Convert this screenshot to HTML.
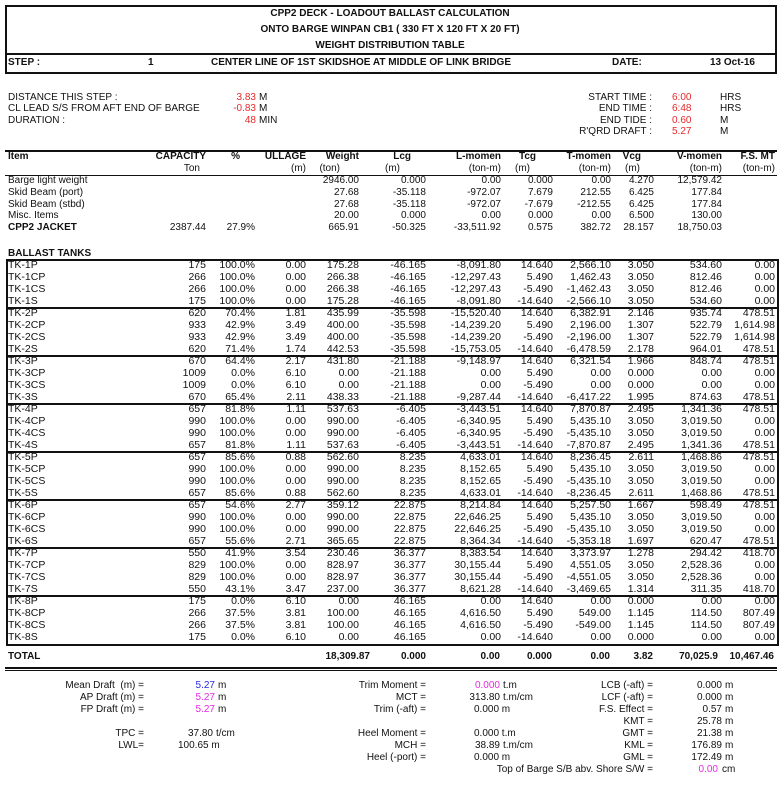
<!DOCTYPE html>
<html><head><meta charset="utf-8"><style>
body{margin:0;background:#fff;}
#p{position:relative;width:780px;height:786px;overflow:hidden;font-family:"Liberation Sans Narrow","Liberation Sans",Arial,sans-serif;font-size:10px;color:#111;}
.t{position:absolute;white-space:nowrap;line-height:12px;}
.r{position:absolute;left:0;width:780px;height:12px;line-height:12px;}
.r span{position:absolute;white-space:nowrap;}
.a{left:8px}.b{right:574px}.c{right:525px}.d{right:474px}.e{right:421px}.f{right:354px}.g{right:279px}.h{right:227px}.i{right:169px}.j{right:126px}.k{right:58px}.l{right:5px}
.tk{font-size:10.5px;}
.bd{font-weight:bold;}
.red{color:#e8282a}.blu{color:#2a2ae6}.mag{color:#e62ae6}
.ln{position:absolute;background:#111;}
</style></head><body><div id="p">
<!-- title box -->
<div style="position:absolute;left:5px;top:5px;width:768px;height:65px;border:2px solid #111;"></div>
<div class="ln" style="left:5px;top:53px;width:772px;height:2px"></div>
<div class="t bd" style="left:0;width:780px;text-align:center;top:8px">CPP2 DECK - LOADOUT BALLAST CALCULATION</div>
<div class="t bd" style="left:0;width:780px;text-align:center;top:24px">ONTO BARGE WINPAN CB1 ( 330 FT X 120 FT X 20 FT)</div>
<div class="t bd" style="left:0;width:780px;text-align:center;top:40px">WEIGHT DISTRIBUTION TABLE</div>
<div class="t bd" style="left:8px;top:57px">STEP :</div>
<div class="t bd" style="left:148px;top:57px">1</div>
<div class="t bd" style="left:211px;top:57px">CENTER LINE OF 1ST SKIDSHOE AT MIDDLE OF LINK BRIDGE</div>
<div class="t bd" style="left:612px;top:57px">DATE:</div>
<div class="t bd" style="right:25px;top:57px">13 Oct-16</div>
<!-- info -->
<div class="t" style="left:8px;top:92px">DISTANCE THIS STEP :</div>
<div class="t" style="left:8px;top:103px">CL LEAD S/S FROM AFT END OF BARGE</div>
<div class="t" style="left:8px;top:115px">DURATION :</div>
<div class="t red" style="right:524px;top:92px">3.83</div><div class="t" style="left:259px;top:92px">M</div>
<div class="t red" style="right:524px;top:103px">-0.83</div><div class="t" style="left:259px;top:103px">M</div>
<div class="t red" style="right:524px;top:115px">48</div><div class="t" style="left:259px;top:115px">MIN</div>
<div class="t" style="right:128px;top:92px">START TIME :</div><div class="t red" style="left:672px;top:92px">6:00</div><div class="t" style="left:720px;top:92px">HRS</div>
<div class="t" style="right:128px;top:103px">END TIME :</div><div class="t red" style="left:672px;top:103px">6:48</div><div class="t" style="left:720px;top:103px">HRS</div>
<div class="t" style="right:128px;top:115px">END TIDE :</div><div class="t red" style="left:672px;top:115px">0.60</div><div class="t" style="left:720px;top:115px">M</div>
<div class="t" style="right:128px;top:126px">R'QRD DRAFT :</div><div class="t red" style="left:672px;top:126px">5.27</div><div class="t" style="left:720px;top:126px">M</div>
<!-- header -->
<div class="ln" style="left:5px;top:150px;width:772px;height:2px"></div>
<div class="ln" style="left:5px;top:175px;width:772px;height:1px"></div>
<div class="r bd" style="top:151px"><span class="a">Item</span><span class="b">CAPACITY</span><span style="right:540px">%</span><span class="d">ULLAGE</span><span class="e">Weight</span><span style="right:369px">Lcg</span><span class="g">L-momen</span><span style="right:244px">Tcg</span><span class="i">T-momen</span><span style="right:139px">Vcg</span><span class="k">V-momen</span><span class="l">F.S. MT</span></div>
<div class="r" style="top:163px"><span style="right:580px">Ton</span><span class="d">(m)</span><span style="right:440px">(ton)</span><span style="right:380px">(m)</span><span class="g">(ton-m)</span><span style="right:250px">(m)</span><span class="i">(ton-m)</span><span style="right:140px">(m)</span><span class="k">(ton-m)</span><span class="l">(ton-m)</span></div>
<div class="r" style="top:175px"><span class="a">Barge light weight</span><span class="e">2946.00</span><span class="f">0.000</span><span class="g">0.00</span><span class="h">0.000</span><span class="i">0.00</span><span class="j">4.270</span><span class="k">12,579.42</span></div>
<div class="r" style="top:187px"><span class="a">Skid Beam (port)</span><span class="e">27.68</span><span class="f">-35.118</span><span class="g">-972.07</span><span class="h">7.679</span><span class="i">212.55</span><span class="j">6.425</span><span class="k">177.84</span></div>
<div class="r" style="top:199px"><span class="a">Skid Beam (stbd)</span><span class="e">27.68</span><span class="f">-35.118</span><span class="g">-972.07</span><span class="h">-7.679</span><span class="i">-212.55</span><span class="j">6.425</span><span class="k">177.84</span></div>
<div class="r" style="top:210px"><span class="a">Misc. Items</span><span class="e">20.00</span><span class="f">0.000</span><span class="g">0.00</span><span class="h">0.000</span><span class="i">0.00</span><span class="j">6.500</span><span class="k">130.00</span></div>
<div class="r" style="top:222px"><span class="a bd">CPP2 JACKET</span><span class="b">2387.44</span><span class="c">27.9%</span><span class="e">665.91</span><span class="f">-50.325</span><span class="g">-33,511.92</span><span class="h">0.575</span><span class="i">382.72</span><span class="j">28.157</span><span class="k">18,750.03</span></div>
<div class="t bd" style="left:8px;top:248px">BALLAST TANKS</div>
<!-- tank box -->
<div style="position:absolute;left:6px;top:259px;width:769px;height:383px;border:2px solid #111;"></div>
<div class="ln" style="left:6px;top:307px;width:772px;height:2px"></div>
<div class="ln" style="left:6px;top:355px;width:772px;height:2px"></div>
<div class="ln" style="left:6px;top:403px;width:772px;height:2px"></div>
<div class="ln" style="left:6px;top:451px;width:772px;height:2px"></div>
<div class="ln" style="left:6px;top:499px;width:772px;height:2px"></div>
<div class="ln" style="left:6px;top:547px;width:772px;height:2px"></div>
<div class="ln" style="left:6px;top:595px;width:772px;height:2px"></div>
<div class="tk">
<div class="r" style="top:259px"><span class="a">TK-1P</span><span class="b">175</span><span class="c">100.0%</span><span class="d">0.00</span><span class="e">175.28</span><span class="f">-46.165</span><span class="g">-8,091.80</span><span class="h">14.640</span><span class="i">2,566.10</span><span class="j">3.050</span><span class="k">534.60</span><span class="l">0.00</span></div>
<div class="r" style="top:271px"><span class="a">TK-1CP</span><span class="b">266</span><span class="c">100.0%</span><span class="d">0.00</span><span class="e">266.38</span><span class="f">-46.165</span><span class="g">-12,297.43</span><span class="h">5.490</span><span class="i">1,462.43</span><span class="j">3.050</span><span class="k">812.46</span><span class="l">0.00</span></div>
<div class="r" style="top:283px"><span class="a">TK-1CS</span><span class="b">266</span><span class="c">100.0%</span><span class="d">0.00</span><span class="e">266.38</span><span class="f">-46.165</span><span class="g">-12,297.43</span><span class="h">-5.490</span><span class="i">-1,462.43</span><span class="j">3.050</span><span class="k">812.46</span><span class="l">0.00</span></div>
<div class="r" style="top:295px"><span class="a">TK-1S</span><span class="b">175</span><span class="c">100.0%</span><span class="d">0.00</span><span class="e">175.28</span><span class="f">-46.165</span><span class="g">-8,091.80</span><span class="h">-14.640</span><span class="i">-2,566.10</span><span class="j">3.050</span><span class="k">534.60</span><span class="l">0.00</span></div>
<div class="r" style="top:307px"><span class="a">TK-2P</span><span class="b">620</span><span class="c">70.4%</span><span class="d">1.81</span><span class="e">435.99</span><span class="f">-35.598</span><span class="g">-15,520.40</span><span class="h">14.640</span><span class="i">6,382.91</span><span class="j">2.146</span><span class="k">935.74</span><span class="l">478.51</span></div>
<div class="r" style="top:319px"><span class="a">TK-2CP</span><span class="b">933</span><span class="c">42.9%</span><span class="d">3.49</span><span class="e">400.00</span><span class="f">-35.598</span><span class="g">-14,239.20</span><span class="h">5.490</span><span class="i">2,196.00</span><span class="j">1.307</span><span class="k">522.79</span><span class="l">1,614.98</span></div>
<div class="r" style="top:331px"><span class="a">TK-2CS</span><span class="b">933</span><span class="c">42.9%</span><span class="d">3.49</span><span class="e">400.00</span><span class="f">-35.598</span><span class="g">-14,239.20</span><span class="h">-5.490</span><span class="i">-2,196.00</span><span class="j">1.307</span><span class="k">522.79</span><span class="l">1,614.98</span></div>
<div class="r" style="top:343px"><span class="a">TK-2S</span><span class="b">620</span><span class="c">71.4%</span><span class="d">1.74</span><span class="e">442.53</span><span class="f">-35.598</span><span class="g">-15,753.05</span><span class="h">-14.640</span><span class="i">-6,478.59</span><span class="j">2.178</span><span class="k">964.01</span><span class="l">478.51</span></div>
<div class="r" style="top:355px"><span class="a">TK-3P</span><span class="b">670</span><span class="c">64.4%</span><span class="d">2.17</span><span class="e">431.80</span><span class="f">-21.188</span><span class="g">-9,148.97</span><span class="h">14.640</span><span class="i">6,321.54</span><span class="j">1.966</span><span class="k">848.74</span><span class="l">478.51</span></div>
<div class="r" style="top:367px"><span class="a">TK-3CP</span><span class="b">1009</span><span class="c">0.0%</span><span class="d">6.10</span><span class="e">0.00</span><span class="f">-21.188</span><span class="g">0.00</span><span class="h">5.490</span><span class="i">0.00</span><span class="j">0.000</span><span class="k">0.00</span><span class="l">0.00</span></div>
<div class="r" style="top:379px"><span class="a">TK-3CS</span><span class="b">1009</span><span class="c">0.0%</span><span class="d">6.10</span><span class="e">0.00</span><span class="f">-21.188</span><span class="g">0.00</span><span class="h">-5.490</span><span class="i">0.00</span><span class="j">0.000</span><span class="k">0.00</span><span class="l">0.00</span></div>
<div class="r" style="top:391px"><span class="a">TK-3S</span><span class="b">670</span><span class="c">65.4%</span><span class="d">2.11</span><span class="e">438.33</span><span class="f">-21.188</span><span class="g">-9,287.44</span><span class="h">-14.640</span><span class="i">-6,417.22</span><span class="j">1.995</span><span class="k">874.63</span><span class="l">478.51</span></div>
<div class="r" style="top:403px"><span class="a">TK-4P</span><span class="b">657</span><span class="c">81.8%</span><span class="d">1.11</span><span class="e">537.63</span><span class="f">-6.405</span><span class="g">-3,443.51</span><span class="h">14.640</span><span class="i">7,870.87</span><span class="j">2.495</span><span class="k">1,341.36</span><span class="l">478.51</span></div>
<div class="r" style="top:415px"><span class="a">TK-4CP</span><span class="b">990</span><span class="c">100.0%</span><span class="d">0.00</span><span class="e">990.00</span><span class="f">-6.405</span><span class="g">-6,340.95</span><span class="h">5.490</span><span class="i">5,435.10</span><span class="j">3.050</span><span class="k">3,019.50</span><span class="l">0.00</span></div>
<div class="r" style="top:427px"><span class="a">TK-4CS</span><span class="b">990</span><span class="c">100.0%</span><span class="d">0.00</span><span class="e">990.00</span><span class="f">-6.405</span><span class="g">-6,340.95</span><span class="h">-5.490</span><span class="i">-5,435.10</span><span class="j">3.050</span><span class="k">3,019.50</span><span class="l">0.00</span></div>
<div class="r" style="top:439px"><span class="a">TK-4S</span><span class="b">657</span><span class="c">81.8%</span><span class="d">1.11</span><span class="e">537.63</span><span class="f">-6.405</span><span class="g">-3,443.51</span><span class="h">-14.640</span><span class="i">-7,870.87</span><span class="j">2.495</span><span class="k">1,341.36</span><span class="l">478.51</span></div>
<div class="r" style="top:451px"><span class="a">TK-5P</span><span class="b">657</span><span class="c">85.6%</span><span class="d">0.88</span><span class="e">562.60</span><span class="f">8.235</span><span class="g">4,633.01</span><span class="h">14.640</span><span class="i">8,236.45</span><span class="j">2.611</span><span class="k">1,468.86</span><span class="l">478.51</span></div>
<div class="r" style="top:463px"><span class="a">TK-5CP</span><span class="b">990</span><span class="c">100.0%</span><span class="d">0.00</span><span class="e">990.00</span><span class="f">8.235</span><span class="g">8,152.65</span><span class="h">5.490</span><span class="i">5,435.10</span><span class="j">3.050</span><span class="k">3,019.50</span><span class="l">0.00</span></div>
<div class="r" style="top:475px"><span class="a">TK-5CS</span><span class="b">990</span><span class="c">100.0%</span><span class="d">0.00</span><span class="e">990.00</span><span class="f">8.235</span><span class="g">8,152.65</span><span class="h">-5.490</span><span class="i">-5,435.10</span><span class="j">3.050</span><span class="k">3,019.50</span><span class="l">0.00</span></div>
<div class="r" style="top:487px"><span class="a">TK-5S</span><span class="b">657</span><span class="c">85.6%</span><span class="d">0.88</span><span class="e">562.60</span><span class="f">8.235</span><span class="g">4,633.01</span><span class="h">-14.640</span><span class="i">-8,236.45</span><span class="j">2.611</span><span class="k">1,468.86</span><span class="l">478.51</span></div>
<div class="r" style="top:499px"><span class="a">TK-6P</span><span class="b">657</span><span class="c">54.6%</span><span class="d">2.77</span><span class="e">359.12</span><span class="f">22.875</span><span class="g">8,214.84</span><span class="h">14.640</span><span class="i">5,257.50</span><span class="j">1.667</span><span class="k">598.49</span><span class="l">478.51</span></div>
<div class="r" style="top:511px"><span class="a">TK-6CP</span><span class="b">990</span><span class="c">100.0%</span><span class="d">0.00</span><span class="e">990.00</span><span class="f">22.875</span><span class="g">22,646.25</span><span class="h">5.490</span><span class="i">5,435.10</span><span class="j">3.050</span><span class="k">3,019.50</span><span class="l">0.00</span></div>
<div class="r" style="top:523px"><span class="a">TK-6CS</span><span class="b">990</span><span class="c">100.0%</span><span class="d">0.00</span><span class="e">990.00</span><span class="f">22.875</span><span class="g">22,646.25</span><span class="h">-5.490</span><span class="i">-5,435.10</span><span class="j">3.050</span><span class="k">3,019.50</span><span class="l">0.00</span></div>
<div class="r" style="top:535px"><span class="a">TK-6S</span><span class="b">657</span><span class="c">55.6%</span><span class="d">2.71</span><span class="e">365.65</span><span class="f">22.875</span><span class="g">8,364.34</span><span class="h">-14.640</span><span class="i">-5,353.18</span><span class="j">1.697</span><span class="k">620.47</span><span class="l">478.51</span></div>
<div class="r" style="top:547px"><span class="a">TK-7P</span><span class="b">550</span><span class="c">41.9%</span><span class="d">3.54</span><span class="e">230.46</span><span class="f">36.377</span><span class="g">8,383.54</span><span class="h">14.640</span><span class="i">3,373.97</span><span class="j">1.278</span><span class="k">294.42</span><span class="l">418.70</span></div>
<div class="r" style="top:559px"><span class="a">TK-7CP</span><span class="b">829</span><span class="c">100.0%</span><span class="d">0.00</span><span class="e">828.97</span><span class="f">36.377</span><span class="g">30,155.44</span><span class="h">5.490</span><span class="i">4,551.05</span><span class="j">3.050</span><span class="k">2,528.36</span><span class="l">0.00</span></div>
<div class="r" style="top:571px"><span class="a">TK-7CS</span><span class="b">829</span><span class="c">100.0%</span><span class="d">0.00</span><span class="e">828.97</span><span class="f">36.377</span><span class="g">30,155.44</span><span class="h">-5.490</span><span class="i">-4,551.05</span><span class="j">3.050</span><span class="k">2,528.36</span><span class="l">0.00</span></div>
<div class="r" style="top:583px"><span class="a">TK-7S</span><span class="b">550</span><span class="c">43.1%</span><span class="d">3.47</span><span class="e">237.00</span><span class="f">36.377</span><span class="g">8,621.28</span><span class="h">-14.640</span><span class="i">-3,469.65</span><span class="j">1.314</span><span class="k">311.35</span><span class="l">418.70</span></div>
<div class="r" style="top:595px"><span class="a">TK-8P</span><span class="b">175</span><span class="c">0.0%</span><span class="d">6.10</span><span class="e">0.00</span><span class="f">46.165</span><span class="g">0.00</span><span class="h">14.640</span><span class="i">0.00</span><span class="j">0.000</span><span class="k">0.00</span><span class="l">0.00</span></div>
<div class="r" style="top:607px"><span class="a">TK-8CP</span><span class="b">266</span><span class="c">37.5%</span><span class="d">3.81</span><span class="e">100.00</span><span class="f">46.165</span><span class="g">4,616.50</span><span class="h">5.490</span><span class="i">549.00</span><span class="j">1.145</span><span class="k">114.50</span><span class="l">807.49</span></div>
<div class="r" style="top:619px"><span class="a">TK-8CS</span><span class="b">266</span><span class="c">37.5%</span><span class="d">3.81</span><span class="e">100.00</span><span class="f">46.165</span><span class="g">4,616.50</span><span class="h">-5.490</span><span class="i">-549.00</span><span class="j">1.145</span><span class="k">114.50</span><span class="l">807.49</span></div>
<div class="r" style="top:631px"><span class="a">TK-8S</span><span class="b">175</span><span class="c">0.0%</span><span class="d">6.10</span><span class="e">0.00</span><span class="f">46.165</span><span class="g">0.00</span><span class="h">-14.640</span><span class="i">0.00</span><span class="j">0.000</span><span class="k">0.00</span><span class="l">0.00</span></div>
</div>
<!-- total -->
<div class="r bd" style="top:651px"><span class="a">TOTAL</span><span style="right:410px">18,309.87</span><span class="f">0.000</span><span style="right:280px">0.00</span><span style="right:228px">0.000</span><span style="right:170px">0.00</span><span style="right:127px">3.82</span><span style="right:62px">70,025.9</span><span style="right:6px">10,467.46</span></div>
<div class="ln" style="left:5px;top:667px;width:772px;height:2px"></div>
<div class="ln" style="left:5px;top:670px;width:772px;height:1px"></div>
<!-- bottom -->
<div class="t" style="right:636px;top:680px">Mean Draft&nbsp; (m) =</div><div class="t blu" style="right:565px;top:680px">5.27</div><div class="t" style="left:218px;top:680px">m</div>
<div class="t" style="right:636px;top:692px">AP Draft (m) =</div><div class="t mag" style="right:565px;top:692px">5.27</div><div class="t" style="left:218px;top:692px">m</div>
<div class="t" style="right:636px;top:704px">FP Draft (m) =</div><div class="t mag" style="right:565px;top:704px">5.27</div><div class="t" style="left:218px;top:704px">m</div>
<div class="t" style="right:636px;top:728px">TPC =</div><div class="t" style="right:567px;top:728px">37.80</div><div class="t" style="left:216px;top:728px">t/cm</div>
<div class="t" style="right:636px;top:740px">LWL=</div><div class="t" style="left:178px;top:740px">100.65 m</div>
<div class="t" style="right:354px;top:680px">Trim Moment =</div><div class="t mag" style="right:280px;top:680px">0.000</div><div class="t" style="left:503px;top:680px">t.m</div>
<div class="t" style="right:354px;top:692px">MCT =</div><div class="t" style="right:280px;top:692px">313.80</div><div class="t" style="left:503px;top:692px">t.m/cm</div>
<div class="t" style="right:354px;top:704px">Trim (-aft) =</div><div class="t" style="left:474px;top:704px">0.000 m</div>
<div class="t" style="right:354px;top:728px">Heel Moment =</div><div class="t" style="left:474px;top:728px">0.000 t.m</div>
<div class="t" style="right:354px;top:740px">MCH =</div><div class="t" style="right:280px;top:740px">38.89</div><div class="t" style="left:503px;top:740px">t.m/cm</div>
<div class="t" style="right:354px;top:752px">Heel (-port) =</div><div class="t" style="left:474px;top:752px">0.000 m</div>
<div class="t" style="right:127px;top:680px">LCB (-aft) =</div><div class="t" style="right:58px;top:680px">0.000</div><div class="t" style="left:725px;top:680px">m</div>
<div class="t" style="right:127px;top:692px">LCF (-aft) =</div><div class="t" style="right:58px;top:692px">0.000</div><div class="t" style="left:725px;top:692px">m</div>
<div class="t" style="right:127px;top:704px">F.S. Effect =</div><div class="t" style="right:58px;top:704px">0.57</div><div class="t" style="left:725px;top:704px">m</div>
<div class="t" style="right:127px;top:716px">KMT =</div><div class="t" style="right:58px;top:716px">25.78</div><div class="t" style="left:725px;top:716px">m</div>
<div class="t" style="right:127px;top:728px">GMT =</div><div class="t" style="right:58px;top:728px">21.38</div><div class="t" style="left:725px;top:728px">m</div>
<div class="t" style="right:127px;top:740px">KML =</div><div class="t" style="right:58px;top:740px">176.89</div><div class="t" style="left:725px;top:740px">m</div>
<div class="t" style="right:127px;top:752px">GML =</div><div class="t" style="right:58px;top:752px">172.49</div><div class="t" style="left:725px;top:752px">m</div>
<div class="t" style="right:127px;top:764px">Top of Barge S/B abv. Shore S/W =</div><div class="t mag" style="right:62px;top:764px">0.00</div><div class="t" style="left:722px;top:764px">cm</div>
</div></body></html>
